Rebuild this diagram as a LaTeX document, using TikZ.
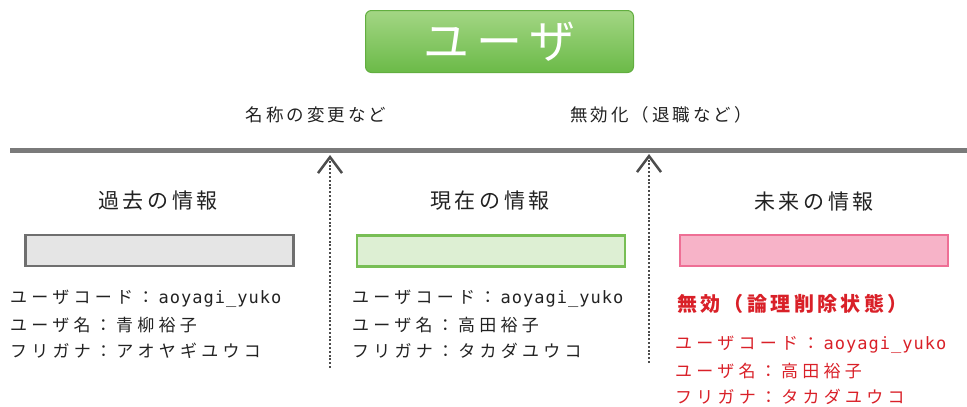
\documentclass[tikz,border=0pt]{standalone}
\usepackage{fontspec}
\setmainfont{Noto Sans CJK JP}[LetterSpace=17]
\setmonofont{DejaVu Sans Mono}[LetterSpace=6]
\newfontfamily\jpwide{Noto Sans CJK JP}[LetterSpace=25]
\usetikzlibrary{arrows.meta}
\definecolor{usertop}{HTML}{A3D684}
\definecolor{userbot}{HTML}{6BBA48}
\definecolor{userline}{HTML}{62AE40}
\definecolor{pastfill}{HTML}{E5E5E5}
\definecolor{pastline}{HTML}{6F6F6F}
\definecolor{nowfill}{HTML}{DDEFD3}
\definecolor{nowline}{HTML}{78BE55}
\definecolor{futfill}{HTML}{F7B3C8}
\definecolor{futline}{HTML}{EE6F95}
\definecolor{deadred}{HTML}{D92028}
\definecolor{txtgray}{HTML}{222222}
\tikzset{
  userbox/.style={draw=userline, line width=1pt, rounded corners=6pt, top color=usertop, bottom color=userbot,
    minimum width=268pt, minimum height=62pt, text=white, font=\fontsize{46}{50}\selectfont},
  infobox/.style={draw, line width=2.5pt, minimum width=268pt, minimum height=31pt, inner sep=0pt},
  ttl/.style={text=txtgray, font=\fontsize{21}{24}\selectfont},
  evtlbl/.style={text=txtgray, font=\fontsize{17.5}{20}\selectfont},
  attr/.style={anchor=west, inner sep=0pt, text=txtgray, font=\jpwide\fontsize{17}{20}\selectfont},
  evt/.style={draw=black!70, line width=2.6pt, dash pattern=on 2pt off 1.8pt,
    -{Straight Barb[length=16pt,width=24pt,line width=2.5pt]}}
}
\begin{document}
\begin{tikzpicture}[x=1pt,y=-1pt]
  \useasboundingbox (0,0) rectangle (967,407);
  \node[userbox] (user) at (499.5,41.5) {ユーザ};
  \node[evtlbl] (rename) at (316,115) {名称の変更など};
  \node[evtlbl] (disable) at (661,115) {無効化（退職など）};
  % time line
  \coordinate (tl0) at (10,150);
  \coordinate (tl1) at (967,150);
  \draw[black!52, line width=5pt] (tl0) -- (tl1);
  % events
  \coordinate (ev1) at (330,368);
  \coordinate (ev1t) at (330,155);
  \coordinate (ev2) at (649,363);
  \coordinate (ev2t) at (649,154);
  \draw[evt] (ev1) -- (ev1t);
  \draw[evt] (ev2) -- (ev2t);
  % past
  \node[ttl] (pastttl) at (158,201) {過去の情報};
  \node[infobox, draw=pastline, fill=pastfill] (past) at (159.5,250.5) {};
  \node[attr] (pastcode) at (10,299) {ユーザコード：\texttt{aoyagi\_yuko}};
  \node[attr] (pastname) at (10,325) {ユーザ名：青柳裕子};
  \node[attr] (pastkana) at (10,351) {フリガナ：アオヤギユウコ};
  % now
  \node[ttl] (nowttl) at (490,201) {現在の情報};
  \node[infobox, draw=nowline, fill=nowfill] (now) at (491,251) {};
  \node[attr] (nowcode) at (352,299) {ユーザコード：\texttt{aoyagi\_yuko}};
  \node[attr] (nowname) at (352,325) {ユーザ名：高田裕子};
  \node[attr] (nowkana) at (352,351) {フリガナ：タカダユウコ};
  % future
  \node[ttl] (futttl) at (814,202) {未来の情報};
  \node[infobox, draw=futline, fill=futfill] (fut) at (814,250.5) {};
  \node[attr, text=deadred, font=\bfseries\fontsize{20}{24}\selectfont] (futstate) at (677,304) {無効（論理削除状態）};
  \node[attr, text=deadred] (futcode) at (675,345) {ユーザコード：\texttt{aoyagi\_yuko}};
  \node[attr, text=deadred] (futname) at (675,371) {ユーザ名：高田裕子};
  \node[attr, text=deadred] (futkana) at (675,397) {フリガナ：タカダユウコ};
\end{tikzpicture}
\end{document}
